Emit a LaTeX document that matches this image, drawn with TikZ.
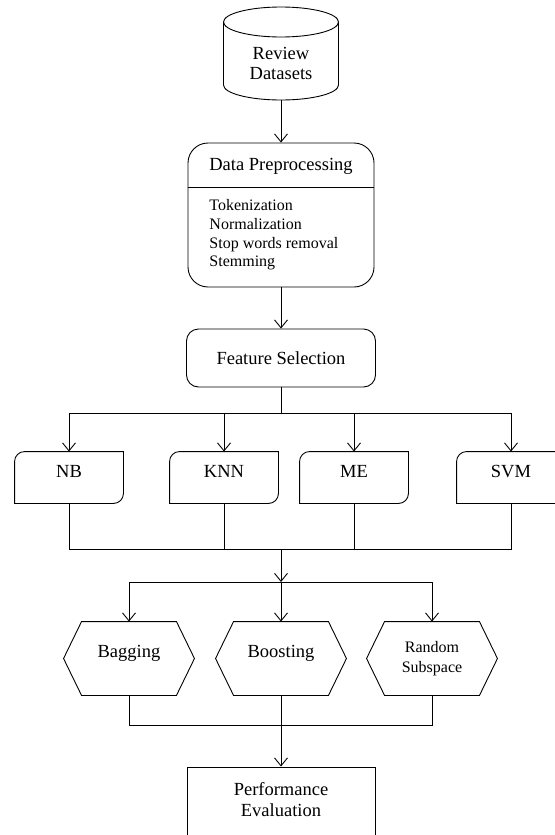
\documentclass[tikz,border=0pt]{standalone}
\usepackage{fontspec}
\setmainfont{Liberation Serif}
\usetikzlibrary{arrows.meta}

\begin{document}
\begin{tikzpicture}[x=1pt,y=-1pt,>={Straight Barb[length=8pt,width=13pt]},
  line width=0.9pt,font=\fontsize{18.5}{20}\selectfont]
  \tikzstyle{plain}=[inner sep=0pt,align=center]
  \tikzstyle{rbox}=[draw,rounded corners=12pt,inner sep=0pt]
  \tikzstyle{cls}=[inner sep=0pt,minimum width=108pt,minimum height=51pt,
    text height=12pt,text depth=12pt]
  \tikzstyle{hex}=[inner sep=0pt,minimum width=94pt,minimum height=73pt,align=center]
  \tikzstyle{hexup}=[text height=12pt,text depth=14pt]

  \useasboundingbox (0,0) rectangle (554,835);

  % datasets
  \draw (223.5,22) -- (223.5,85)
    arc[start angle=180,end angle=360,x radius=57.5pt,y radius=15pt] -- (338.5,22);
  \draw (281,22) ellipse [x radius=57.5pt,y radius=15pt];
  \node[plain] (rev) at (281,63) {Review\\Datasets};
  \coordinate (revb) at (281,100);

  % preprocessing
  \node[rbox,rounded corners=20pt,minimum width=186pt,minimum height=144pt] (pre) at (281,215) {};
  \draw (pre.west |- 0,187) -- (pre.east |- 0,187);
  \node[plain] (pretitle) at (281,166) {Data Preprocessing};
  \node[plain,align=left,anchor=west,font=\fontsize{16}{18.7}\selectfont] (steps) at (209,235)
    {Tokenization\\Normalization\\Stop words removal\\Stemming};

  \node[rbox,minimum width=189pt,minimum height=58pt] (fs) at (281,358) {Feature Selection};

  % classifiers
  \node[cls] (nb) at (69,477.5) {NB};
  \node[cls] (knn) at (224,477.5) {KNN};
  \node[cls] (me) at (354,477.5) {ME};
  \node[cls] (svm) at (511,477.5) {SVM};

  % ensembles
  \node[hex,hexup] (bag) at (129,658.5) {Bagging};
  \node[hex,hexup] (boost) at (281,658.5) {Boosting};
  \node[hex,font=\fontsize{16}{20}\selectfont] (rand) at (432,658.5) {Random\\Subspace};

  \node[draw,minimum width=188pt,minimum height=100pt,inner sep=0pt] (perf) at (281,817) {};
  \node[plain,font=\fontsize{18.5}{21}\selectfont] (perftxt) at (281,800) {Performance\\Evaluation};

  \foreach \c in {nb,knn,me,svm}
    \draw ([yshift=-10pt]\c.north west) arc[start angle=180,end angle=90,radius=10pt]
      -- (\c.north east) -- ([yshift=10pt]\c.south east)
      arc[start angle=0,end angle=-90,radius=10pt] -- (\c.south west) -- cycle;
  \foreach \h in {bag,boost,rand}
    \draw (\h.north west) -- (\h.north east) -- ([xshift=18pt]\h.east)
      -- (\h.south east) -- (\h.south west) -- ([xshift=-18pt]\h.west) -- cycle;

  \coordinate (split1) at (281,413);
  \coordinate (join1) at (281,549);
  \coordinate (split2) at (281,582);
  \coordinate (join2) at (281,725);

  \draw[->] (revb) -- (pre);
  \draw[->] (pre) -- (fs);
  \draw (fs) -- (split1);
  \foreach \c in {nb,knn,me,svm}
    \draw[->] (split1) -| (\c);
  \foreach \c in {nb,knn,me,svm}
    \draw (\c) |- (join1);
  \draw[->] (join1) -- (split2);
  \foreach \h in {bag,boost,rand}
    \draw[->] (split2) -| (\h);
  \foreach \h in {bag,rand}
    \draw (\h) |- (join2);
  \draw (boost) -- (join2);
  \draw[->] (join2) -- (perf);
\end{tikzpicture}
\end{document}
